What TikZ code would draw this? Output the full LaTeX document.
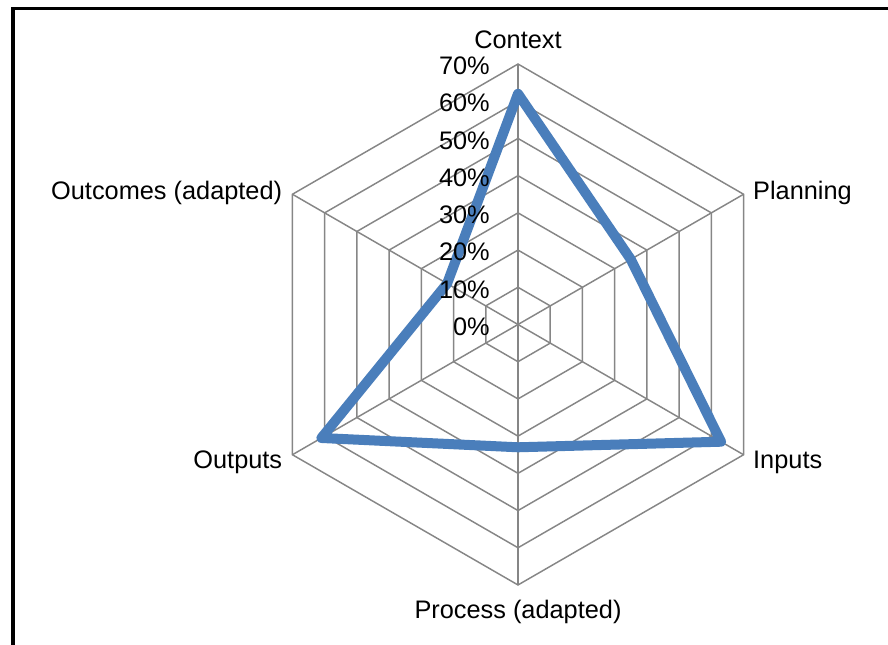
\documentclass[tikz,border=0pt]{standalone}
\usepackage{fontspec}
\setmainfont{Liberation Sans}
\usetikzlibrary{positioning}
\usetikzlibrary{calc}
\definecolor{gridgray}{HTML}{868686}
\definecolor{seriesblue}{HTML}{4A7EBB}
\tikzset{grid line/.style={draw=gridgray,line width=1.1pt},
  series line/.style={draw=seriesblue,line width=7.5pt,line join=round},
  tick label/.style={inner sep=0pt,anchor=east},
  axis name/.style={inner sep=0pt}}

\begin{document}
\begin{tikzpicture}[x=0.75pt,y=0.75pt,every node/.style={font=\fontsize{19}{22}\selectfont}]
\useasboundingbox (-518,-320.5) rectangle (370,324.5);
\draw[line width=2.4pt] (-505,-320.5) -- (-505,316) -- (370,316);

\coordinate (c) at (0,0);
\coordinate (v1) at (90:260.5);
\coordinate (v2) at (30:260.5);
\coordinate (v3) at (-30:260.5);
\coordinate (v4) at (-90:260.5);
\coordinate (v5) at (-150:260.5);
\coordinate (v6) at (150:260.5);

% rings, 10% apart
\foreach \r in {1,...,7}
  \draw[grid line] (90:\r*37.21) -- (30:\r*37.21) -- (-30:\r*37.21) -- (-90:\r*37.21) -- (-150:\r*37.21) -- (150:\r*37.21) -- cycle;
\foreach \v in {v1,v2,v3,v4,v5,v6}
  \draw[grid line] (c) -- (\v);

% data
\coordinate (p-context) at (90:{62*3.721});
\coordinate (p-planning) at (30:{35*3.721});
\coordinate (p-inputs) at (-30:{63*3.721});
\coordinate (p-process) at (-90:{33*3.721});
\coordinate (p-outputs) at (-150:{61*3.721});
\coordinate (p-outcomes) at (150:{22*3.721});
\draw[series line] (p-context) -- (p-planning) -- (p-inputs) -- (p-process) -- (p-outputs) -- (p-outcomes) -- cycle;

\foreach \r in {0,...,7}{
  \pgfmathtruncatemacro\pct{\r*10}
  \node[tick label] (tick\r) at (-28,{\r*37.21-2}) {\pct\%};
}

\node[axis name,above=11pt of v1] (context) {Context};
\node[axis name,right=7pt of v2,yshift=1pt] (planning) {Planning};
\node[axis name,right=7pt of v3,yshift=-6pt] (inputs) {Inputs};
\node[axis name,below=11pt of v4] (process) {Process (adapted)};
\node[axis name,left=7.5pt of v5,yshift=-6pt] (outputs) {Outputs};
\node[axis name,left=7.5pt of v6,yshift=1pt] (outcomes) {Outcomes (adapted)};
\end{tikzpicture}
\end{document}
